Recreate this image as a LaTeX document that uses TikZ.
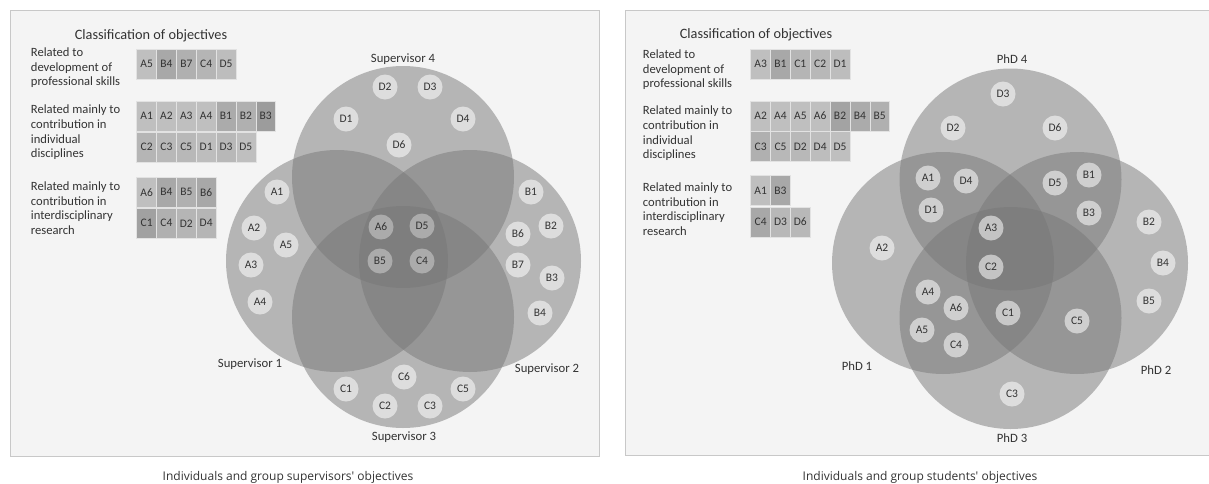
\documentclass[tikz,border=0pt]{standalone}
\usepackage{fontspec}
\setmainfont{Carlito}
\newfontfamily\capfont{Open Sans}
\definecolor{panelbg}{HTML}{F4F4F4}
\definecolor{framec}{HTML}{C8C8C8}
\definecolor{venn}{HTML}{787878}
\definecolor{txt}{HTML}{333333}
\definecolor{cellline}{HTML}{E2E2E2}
\begin{document}
\begin{tikzpicture}[x=1pt,y=-1pt,
  panel/.style={draw=framec, fill=panelbg, line width=0.8pt},
  big/.style={circle, minimum size=222pt, inner sep=0pt, fill=venn, fill opacity=0.5},
  obj/.style={circle, minimum size=25pt, inner sep=0pt, fill=white, fill opacity=0.55, text opacity=1, text=txt, font=\fontsize{11.5}{12}\selectfont},
  objd/.style={obj, fill opacity=0.35},
  cell/.style={rectangle, minimum width=19.85pt, minimum height=30pt, inner sep=0pt, draw=cellline, line width=0.6pt, text=txt, font=\fontsize{11.5}{12}\selectfont},
  ttl/.style={text=txt, font=\fontsize{14.3}{16}\selectfont, inner sep=0pt},
  lbl/.style={text=txt, font=\fontsize{12.6}{14.6}\selectfont, align=left, anchor=west, inner sep=0pt},
  vlbl/.style={text=txt, font=\fontsize{12.7}{14}\selectfont, inner sep=0pt},
  captext/.style={text=txt, font=\capfont\fontsize{12}{14}\selectfont, inner sep=0pt}]
\useasboundingbox (0,0) rectangle (1209,483);
\fill[white] (0,0) rectangle (1209,483);
% panels
\node[panel, minimum width=589pt, minimum height=446pt, anchor=north west, inner sep=0pt] (lpanel) at (10,10) {};
\node[panel, minimum width=600pt, minimum height=445pt, anchor=north west, inner sep=0pt] (rpanel) at (625,10) {};

% ---------------- LEFT ----------------
\node[ttl] (ltitle) at (151,36) {Classification of objectives};
\node[lbl] (ll1) at (30.7,68) {Related to\\development of\\professional skills};
\node[lbl] (ll2) at (30.7,132.5) {Related mainly to\\contribution in\\individual\\disciplines};
\node[lbl] (ll3) at (30.7,208) {Related mainly to\\contribution in\\interdisciplinary\\research};
\foreach \t/\c [count=\i] in {A5/25,B4/34,B7/31,C4/29,D5/26}
  \node[cell, fill=black!\c] (la\i) at ({136.7+19.85*(\i-0.5)},64.3) {\t};
\foreach \t/\c [count=\i] in {A1/25,A2/25,A3/25,A4/25,B1/33,B2/31,B3/39}
  \node[cell, fill=black!\c] (lb\i) at ({136.7+19.85*(\i-0.5)},116) {\t};
\foreach \t/\c [count=\i] in {C2/29,C3/28,C5/28,D1/26,D3/28,D5/25}
  \node[cell, fill=black!\c] (lc\i) at ({136.7+19.85*(\i-0.5)},147) {\t};
\foreach \t/\c [count=\i] in {A6/25,B4/34,B5/31,B6/34}
  \node[cell, fill=black!\c] (ld\i) at ({136.7+19.85*(\i-0.5)},192.3) {\t};
\foreach \t/\c [count=\i] in {C1/37,C4/31,D2/29,D4/29}
  \node[cell, fill=black!\c] (le\i) at ({136.7+19.85*(\i-0.5)},223.3) {\t};

\node[big] (S4) at (403,177) {};
\node[big] (S1) at (337,261) {};
\node[big] (S2) at (470,261) {};
\node[big] (S3) at (403,317) {};
\node[vlbl] (S4l) at (403,59) {Supervisor 4};
\node[vlbl] (S1l) at (250,364) {Supervisor 1};
\node[vlbl] (S2l) at (547,369) {Supervisor 2};
\node[vlbl] (S3l) at (404,437) {Supervisor 3};

\foreach \t/\x/\y in {D2/385/87, D3/430/87, D1/346/119, D4/463/119, D6/399/145,
  A1/277/192, A2/254/228, A5/286/245, A3/251/265, A4/260/302,
  B1/531/192, B2/551/226, B6/518/234, B7/518/265, B3/552/278, B4/540/313,
  C6/404/377, C1/346/389, C5/463/389, C2/385/406, C3/430/406}
  \node[obj] (lo\t) at (\x,\y) {\t};
\foreach \t/\x/\y in {A6/381/227, D5/422/226, B5/380/261, C4/422/261}
  \node[objd] (lo\t) at (\x,\y) {\t};

\node[captext] (lcap) at (288,477) {Individuals and group supervisors' objectives};

% ---------------- RIGHT ----------------
\node[ttl] (rtitle) at (756,35) {Classification of objectives};
\node[lbl] (rl1) at (642.7,69.7) {Related to\\development of\\professional skills};
\node[lbl] (rl2) at (642.7,133.5) {Related mainly to\\contribution in\\individual\\disciplines};
\node[lbl] (rl3) at (642.7,209) {Related mainly to\\contribution in\\interdisciplinary\\research};
\foreach \t/\c [count=\i] in {A3/25,B1/34,C1/29,C2/28,D1/26}
  \node[cell, fill=black!\c] (ra\i) at ({750.7+19.85*(\i-0.5)},64) {\t};
\foreach \t/\c [count=\i] in {A2/25,A4/25,A5/25,A6/25,B2/36,B4/33,B5/31}
  \node[cell, fill=black!\c] (rb\i) at ({750.7+19.85*(\i-0.5)},116) {\t};
\foreach \t/\c [count=\i] in {C3/31,C5/28,D2/28,D4/26,D5/25}
  \node[cell, fill=black!\c] (rc\i) at ({750.7+19.85*(\i-0.5)},146.7) {\t};
\foreach \t/\c [count=\i] in {A1/25,B3/34}
  \node[cell, fill=black!\c] (rd\i) at ({750.7+19.85*(\i-0.5)},190.7) {\t};
\foreach \t/\c [count=\i] in {C4/34,D3/28,D6/28}
  \node[cell, fill=black!\c] (re\i) at ({750.7+19.85*(\i-0.5)},222) {\t};

\node[big] (P4) at (1010.5,179.5) {};
\node[big] (P1) at (943,263) {};
\node[big] (P2) at (1077,263) {};
\node[big] (P3) at (1010.5,318) {};
\node[vlbl] (P4l) at (1012,59) {PhD 4};
\node[vlbl] (P1l) at (857,366) {PhD 1};
\node[vlbl] (P2l) at (1156,370) {PhD 2};
\node[vlbl] (P3l) at (1012,438) {PhD 3};

\foreach \t/\x/\y in {D3/1003/94, D2/953/128, D6/1055/128,
  A1/928/178, D4/966/181, D1/931/210, D5/1055/183, B1/1089/175, B3/1089/213,
  A3/991/228, C2/991/267, A2/882/248, B2/1149/222, B4/1163/263, B5/1149/301,
  A4/928/292, A6/956/308, A5/922/330, C4/956/345, C1/1008/313, C5/1077/321, C3/1012/394}
  \node[obj] (ro\t) at (\x,\y) {\t};

\node[captext] (rcap) at (920,477) {Individuals and group students' objectives};
\end{tikzpicture}
\end{document}
